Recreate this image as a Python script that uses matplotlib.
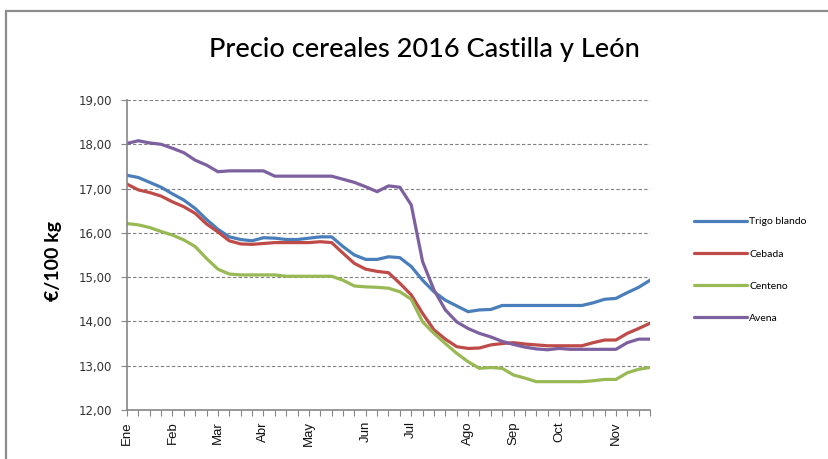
import numpy as np
import matplotlib.pyplot as plt
from matplotlib.patches import Rectangle
from matplotlib.ticker import FuncFormatter

# weekly categories (only the first week of each month is labelled)
weeks = ['Ene', '', '', '', 'Feb', '', '', '', 'Mar', '', '', '', 'Abr', '', '', '',
         'May', '', '', '', '', 'Jun', '', '', '', 'Jul', '', '', '', '', 'Ago', '',
         '', '', 'Sep', '', '', '', 'Oct', '', '', '', '', 'Nov', '', '', '']

trigo = [17.30, 17.25, 17.14, 17.03, 16.88, 16.74, 16.55, 16.30, 16.08, 15.91, 15.85, 15.82,
         15.89, 15.88, 15.85, 15.85, 15.88, 15.91, 15.91, 15.69, 15.50, 15.40, 15.40, 15.46,
         15.44, 15.24, 14.93, 14.67, 14.48, 14.35, 14.22, 14.26, 14.27, 14.36, 14.36, 14.36,
         14.36, 14.36, 14.36, 14.36, 14.36, 14.42, 14.50, 14.52, 14.65, 14.77, 14.93]
cebada = [17.10, 16.97, 16.91, 16.83, 16.70, 16.59, 16.44, 16.20, 16.02, 15.82, 15.75, 15.74,
          15.76, 15.78, 15.78, 15.78, 15.78, 15.80, 15.78, 15.54, 15.31, 15.18, 15.13, 15.10,
          14.86, 14.60, 14.18, 13.81, 13.60, 13.43, 13.39, 13.40, 13.47, 13.50, 13.52, 13.49,
          13.47, 13.45, 13.45, 13.45, 13.45, 13.52, 13.58, 13.58, 13.73, 13.84, 13.96]
centeno = [16.21, 16.18, 16.12, 16.03, 15.95, 15.84, 15.69, 15.42, 15.18, 15.07, 15.05, 15.05,
           15.05, 15.05, 15.02, 15.02, 15.02, 15.02, 15.02, 14.93, 14.80, 14.78, 14.77, 14.75,
           14.67, 14.50, 13.99, 13.73, 13.50, 13.28, 13.09, 12.94, 12.96, 12.94, 12.79, 12.72,
           12.64, 12.64, 12.64, 12.64, 12.64, 12.66, 12.69, 12.69, 12.84, 12.92, 12.96]
avena = [18.02, 18.08, 18.03, 18.00, 17.91, 17.81, 17.64, 17.53, 17.38, 17.40, 17.40, 17.40,
         17.40, 17.28, 17.28, 17.28, 17.28, 17.28, 17.28, 17.21, 17.14, 17.04, 16.93, 17.06,
         17.03, 16.63, 15.35, 14.71, 14.26, 13.99, 13.84, 13.73, 13.65, 13.55, 13.48, 13.42,
         13.38, 13.36, 13.39, 13.37, 13.37, 13.37, 13.37, 13.37, 13.52, 13.60, 13.60]

series = [('Trigo blando', trigo, '#4A7EBB'),
          ('Cebada', cebada, '#BE4B48'),
          ('Centeno', centeno, '#98B954'),
          ('Avena', avena, '#7D60A0')]

fig = plt.figure(figsize=(8.29, 4.59), dpi=100)
fig.patches.append(Rectangle((6/829, -0.1), 1.2, 1 - 11/459 + 0.1, transform=fig.transFigure,
                             fill=False, edgecolor='#8c8c8c', linewidth=1.6))

ax = fig.add_axes([127/829, 1 - 410/459, 523/829, 310/459])
x = np.arange(len(weeks))
for name, vals, col in series:
    ax.plot(x, vals, color=col, linewidth=2.3, label=name, solid_capstyle='round')

ax.set_xlim(0, len(weeks) - 1)
ax.set_ylim(12, 19)
ax.set_yticks(np.arange(12, 20))
ax.yaxis.set_major_formatter(FuncFormatter(lambda v, p: f'{v:.2f}'.replace('.', ',')))
ax.grid(axis='y', color='#808080', linestyle=(0, (3, 2)), linewidth=0.8)
ax.set_axisbelow(True)
for s in ['top', 'right']:
    ax.spines[s].set_visible(False)
for s in ['left', 'bottom']:
    ax.spines[s].set_color('#868686')
    ax.spines[s].set_linewidth(1.2)

ax.set_xticks(x)
ax.set_xticklabels(weeks, rotation=90, fontsize=9.5, family='Liberation Sans', color='#111111')
ax.tick_params(axis='x', length=4, color='#868686', pad=4)
ax.tick_params(axis='y', length=4, color='#868686', pad=7, labelsize=8.5, labelcolor='#333333')

ax.set_ylabel('€/100 kg', fontsize=14, fontweight='bold', family='Lato')
ax.yaxis.set_label_coords(-0.124, 0.48)

fig.text(424/829, 1 - 50/459, 'Precio cereales 2016 Castilla y León', ha='center', va='center',
         fontsize=19.5, family='Lato', fontweight='medium')

fig.legend(loc='center left', bbox_to_anchor=(689/829, 1 - 270/459), frameon=False,
           handlelength=5.1, handletextpad=0.2, labelspacing=2.2, borderpad=0,
           prop={'family': 'Lato', 'size': 7.5})

fig.savefig('out.png', dpi=100)
